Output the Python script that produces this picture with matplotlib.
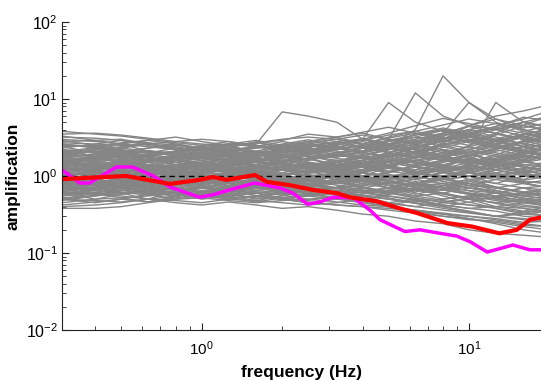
import matplotlib.pyplot as plt
import numpy as np

plt.rcParams['font.family'] = ['Liberation Sans', 'DejaVu Sans']
plt.rcParams['mathtext.fontset'] = 'custom'
plt.rcParams['mathtext.rm'] = 'Liberation Sans'

# frequencies shared by all site curves (Hz)
freq = [0.3, 0.4, 0.5, 0.63, 0.8, 1.0, 1.26, 1.6, 2.0, 2.5, 3.2, 4.0, 5.0, 6.3, 8.0, 10.0, 12.6, 16.0, 20.0]

# amplification of every site curve (grey), one row per site
site_amp = [
    [1.2, 1.3, 1.1, 1.0, 1.2, 1.4, 1.3, 1.1, 1.0, 1.2, 1.5, 1.3, 1.1, 1.4, 1.8, 1.6, 1.3, 1.5, 1.7],
    [0.8, 0.7, 0.9, 0.8, 0.7, 0.8, 0.9, 1.0, 0.8, 0.7, 0.9, 1.1, 1.0, 0.8, 0.9, 1.2, 1.4, 1.1, 0.9],
    [1.8, 1.9, 2.1, 1.7, 1.6, 1.8, 2.0, 1.7, 1.5, 1.9, 2.2, 2.5, 2.0, 1.8, 2.6, 3.0, 2.4, 2.2, 2.8],
    [0.6, 0.65, 0.7, 0.6, 0.55, 0.6, 0.7, 0.65, 0.6, 0.55, 0.6, 0.7, 0.8, 0.6, 0.5, 0.55, 0.6, 0.7, 0.65],
    [2.5, 2.4, 2.2, 2.0, 2.3, 2.1, 1.8, 2.0, 2.4, 2.2, 1.9, 2.3, 2.8, 3.2, 2.9, 2.5, 3.5, 3.0, 2.6],
    [1.0, 0.9, 1.1, 1.2, 1.0, 0.9, 1.1, 1.3, 1.2, 1.0, 1.1, 0.9, 0.8, 1.0, 1.2, 0.9, 0.8, 1.0, 1.1],
    [1.5, 1.4, 1.3, 1.5, 1.6, 1.4, 1.2, 1.3, 1.5, 1.7, 1.4, 1.2, 1.6, 2.0, 1.7, 2.2, 1.9, 1.6, 2.0],
    [0.5, 0.55, 0.6, 0.65, 0.6, 0.5, 0.55, 0.6, 0.5, 0.45, 0.5, 0.55, 0.45, 0.4, 0.45, 0.5, 0.4, 0.35, 0.4],
    [3.8, 3.5, 3.3, 3.0, 2.7, 2.5, 2.6, 2.4, 2.2, 2.5, 2.8, 3.0, 2.6, 3.5, 4.2, 3.6, 3.0, 3.8, 4.5],
    [0.9, 1.0, 0.85, 0.9, 1.1, 1.0, 0.9, 0.8, 0.9, 1.1, 1.3, 1.0, 0.9, 1.2, 1.5, 1.8, 1.4, 1.2, 1.0],
    [1.3, 1.2, 1.4, 1.6, 1.5, 1.3, 1.4, 1.6, 1.8, 1.5, 1.3, 1.6, 1.9, 1.5, 1.3, 1.7, 2.1, 2.4, 2.0],
    [0.7, 0.8, 0.75, 0.7, 0.8, 0.9, 0.8, 0.7, 0.75, 0.8, 0.7, 0.6, 0.7, 0.85, 0.7, 0.6, 0.55, 0.6, 0.7],
    [2.0, 2.2, 2.4, 2.6, 2.3, 2.0, 1.8, 2.1, 2.5, 2.3, 2.0, 1.8, 2.2, 2.6, 3.0, 4.0, 3.2, 2.6, 2.3],
    [1.1, 1.0, 0.9, 1.0, 1.1, 1.2, 1.1, 1.0, 1.1, 1.3, 1.2, 1.0, 1.3, 1.1, 0.9, 1.0, 1.2, 1.4, 1.3],
    [0.4, 0.42, 0.45, 0.5, 0.48, 0.45, 0.5, 0.55, 0.5, 0.45, 0.42, 0.4, 0.38, 0.35, 0.3, 0.28, 0.25, 0.22, 0.2],
    [1.6, 1.7, 1.5, 1.4, 1.3, 1.5, 1.7, 1.9, 1.6, 1.4, 1.5, 1.7, 2.0, 2.4, 2.0, 1.7, 1.5, 1.8, 2.1],
    [0.85, 0.8, 0.75, 0.85, 0.95, 0.85, 0.75, 0.8, 0.9, 0.8, 0.7, 0.75, 0.85, 0.7, 0.65, 0.75, 0.9, 0.8, 0.7],
    [1.5, 1.6, 1.8, 1.9, 2.0, 1.8, 1.9, 2.6, 6.8, 6.0, 5.0, 3.0, 2.5, 3.0, 3.6, 3.0, 2.6, 3.2, 3.8],
    [0.6, 0.58, 0.55, 0.5, 0.55, 0.6, 0.58, 0.52, 0.5, 0.55, 0.6, 0.5, 0.45, 0.5, 0.42, 0.38, 0.4, 0.45, 0.5],
    [1.9, 1.8, 1.6, 1.5, 1.7, 1.9, 2.2, 2.0, 1.8, 1.6, 1.9, 2.3, 2.6, 2.2, 1.8, 2.5, 3.4, 4.5, 3.8],
    [1.0, 1.1, 1.2, 1.1, 1.0, 1.1, 1.2, 1.1, 0.95, 0.9, 1.0, 1.2, 1.5, 1.3, 1.1, 1.0, 0.8, 0.7, 0.75],
    [0.75, 0.7, 0.65, 0.7, 0.75, 0.7, 0.65, 0.6, 0.65, 0.7, 0.8, 0.9, 0.75, 0.65, 0.6, 0.5, 0.45, 0.4, 0.38],
    [2.8, 2.9, 3.0, 2.6, 2.3, 2.2, 2.4, 2.1, 2.0, 2.2, 2.4, 2.0, 1.8, 2.4, 3.0, 4.5, 5.5, 4.0, 3.2],
    [1.25, 1.15, 1.05, 1.1, 1.2, 1.3, 1.2, 1.15, 1.3, 1.4, 1.2, 1.1, 1.0, 0.9, 1.1, 1.3, 1.6, 1.9, 1.6],
    [0.55, 0.6, 0.7, 0.75, 0.7, 0.65, 0.7, 0.8, 0.75, 0.65, 0.6, 0.55, 0.6, 0.7, 0.6, 0.5, 0.45, 0.5, 0.55],
    [1.7, 1.6, 1.9, 2.1, 2.0, 1.7, 1.6, 1.8, 2.0, 2.3, 2.1, 1.9, 2.2, 2.8, 3.6, 9.0, 5.0, 3.8, 3.0],
    [0.95, 0.9, 0.8, 0.75, 0.85, 0.95, 1.0, 0.9, 0.85, 0.8, 0.9, 1.0, 0.85, 0.75, 0.8, 0.9, 1.0, 0.85, 0.8],
    [1.35, 1.45, 1.3, 1.2, 1.3, 1.4, 1.5, 1.35, 1.2, 1.1, 1.3, 1.5, 1.4, 1.7, 2.2, 2.0, 2.6, 2.2, 1.8],
    [0.45, 0.5, 0.52, 0.55, 0.6, 0.55, 0.5, 0.48, 0.45, 0.42, 0.45, 0.5, 0.55, 0.5, 0.4, 0.35, 0.3, 0.32, 0.35],
    [2.2, 2.1, 2.0, 2.3, 2.5, 2.3, 2.1, 1.9, 2.2, 2.6, 2.4, 2.1, 3.0, 12.0, 6.0, 4.5, 4.0, 5.0, 4.2],
    [1.05, 1.1, 1.0, 0.95, 1.0, 1.05, 1.0, 0.95, 1.05, 1.15, 1.1, 1.0, 1.1, 1.3, 1.2, 1.0, 0.9, 1.1, 1.2],
    [0.8, 0.85, 0.9, 0.95, 0.9, 0.8, 0.85, 0.9, 0.85, 0.95, 1.0, 0.85, 0.75, 0.8, 0.95, 1.1, 1.0, 0.8, 0.7],
    [1.6, 1.5, 1.4, 1.3, 1.4, 1.6, 1.8, 1.7, 1.5, 1.3, 1.4, 1.6, 1.8, 2.0, 1.7, 1.4, 1.6, 2.0, 2.4],
    [3.0, 2.8, 2.6, 2.4, 2.2, 2.4, 2.6, 2.5, 2.3, 2.1, 2.5, 3.0, 9.0, 5.0, 3.8, 3.2, 2.8, 3.5, 4.0],
    [0.65, 0.7, 0.8, 0.85, 0.8, 0.75, 0.7, 0.72, 0.8, 0.9, 0.85, 0.7, 0.6, 0.55, 0.6, 0.7, 0.65, 0.55, 0.5],
    [1.15, 1.2, 1.3, 1.4, 1.3, 1.2, 1.25, 1.35, 1.4, 1.3, 1.2, 1.3, 1.5, 1.8, 2.2, 1.9, 1.6, 1.4, 1.5],
    [0.5, 0.45, 0.5, 0.58, 0.62, 0.58, 0.55, 0.6, 0.65, 0.6, 0.5, 0.45, 0.4, 0.35, 0.32, 0.3, 0.28, 0.25, 0.26],
    [2.4, 2.5, 2.3, 2.1, 1.9, 2.0, 2.2, 2.4, 2.2, 2.0, 2.3, 2.8, 2.4, 4.0, 20.0, 9.0, 5.5, 4.5, 4.0],
    [0.9, 0.95, 1.05, 1.1, 1.05, 1.0, 0.95, 1.05, 1.1, 1.0, 0.95, 0.85, 0.9, 1.0, 0.85, 0.75, 0.7, 0.8, 0.9],
    [1.45, 1.35, 1.25, 1.3, 1.4, 1.5, 1.4, 1.3, 1.25, 1.35, 1.5, 1.8, 2.2, 2.6, 2.2, 1.9, 2.3, 2.8, 3.2],
    [0.7, 0.68, 0.72, 0.78, 0.82, 0.78, 0.72, 0.68, 0.7, 0.75, 0.7, 0.65, 0.6, 0.52, 0.45, 0.42, 0.4, 0.38, 0.35],
    [1.8, 1.9, 1.7, 1.6, 1.7, 1.8, 1.6, 1.5, 1.7, 1.9, 1.7, 1.5, 1.6, 2.0, 2.6, 2.3, 9.0, 5.0, 3.5],
    [1.0, 0.95, 0.9, 1.0, 1.1, 1.2, 1.15, 1.05, 1.0, 0.95, 1.05, 1.15, 1.25, 1.1, 1.0, 1.2, 1.5, 1.3, 1.1],
    [0.58, 0.62, 0.66, 0.6, 0.56, 0.6, 0.64, 0.7, 0.66, 0.6, 0.58, 0.62, 0.7, 0.66, 0.58, 0.5, 0.52, 0.6, 0.65],
    [2.6, 2.4, 2.7, 2.9, 2.6, 2.3, 2.5, 2.7, 2.9, 3.5, 3.2, 2.6, 2.3, 2.8, 3.5, 4.5, 6.0, 7.0, 8.4],
    [1.2, 1.25, 1.35, 1.25, 1.15, 1.1, 1.2, 1.3, 1.2, 1.15, 1.25, 1.4, 1.3, 1.2, 1.4, 1.7, 1.5, 1.3, 1.2],
    [0.85, 0.9, 0.8, 0.7, 0.65, 0.7, 0.8, 0.85, 0.75, 0.7, 0.65, 0.6, 0.65, 0.75, 0.9, 0.8, 0.7, 0.6, 0.55],
    [1.55, 1.6, 1.65, 1.75, 1.6, 1.5, 1.55, 1.65, 1.75, 1.8, 1.6, 1.45, 1.55, 1.7, 2.0, 2.4, 2.0, 1.7, 1.9],
    [0.38, 0.38, 0.4, 0.45, 0.5, 0.52, 0.48, 0.45, 0.48, 0.5, 0.46, 0.42, 0.4, 0.36, 0.33, 0.3, 0.27, 0.24, 0.22],
    [3.5, 3.6, 3.4, 3.1, 2.8, 2.6, 2.5, 2.7, 3.0, 3.2, 3.0, 2.6, 2.4, 2.8, 3.4, 4.0, 3.6, 3.0, 2.7],
    [1.1, 1.05, 1.15, 1.25, 1.35, 1.25, 1.15, 1.1, 1.2, 1.35, 1.5, 1.3, 1.15, 1.05, 1.2, 1.4, 1.2, 1.0, 0.9],
    [0.72, 0.76, 0.82, 0.88, 0.84, 0.78, 0.82, 0.88, 0.92, 0.86, 0.8, 0.76, 0.82, 0.9, 0.8, 0.7, 0.62, 0.58, 0.6],
    [2.1, 2.0, 1.85, 1.95, 2.1, 2.2, 2.05, 1.9, 1.8, 1.95, 2.2, 2.5, 2.9, 3.4, 4.0, 3.4, 2.8, 2.4, 2.6],
    [0.95, 1.0, 1.05, 0.95, 0.88, 0.92, 1.0, 1.08, 1.0, 0.92, 0.85, 0.9, 1.0, 1.1, 1.25, 1.1, 0.95, 0.85, 0.8],
    [1.3, 1.35, 1.45, 1.55, 1.5, 1.4, 1.3, 1.25, 1.35, 1.45, 1.4, 1.3, 1.4, 1.6, 1.9, 2.2, 2.6, 3.2, 2.8],
    [0.62, 0.6, 0.58, 0.62, 0.68, 0.72, 0.68, 0.62, 0.58, 0.55, 0.58, 0.62, 0.55, 0.48, 0.42, 0.38, 0.35, 0.3, 0.28],
    [1.75, 1.65, 1.55, 1.6, 1.75, 1.9, 2.05, 1.9, 1.75, 1.65, 1.8, 2.0, 2.3, 2.0, 1.7, 1.5, 1.7, 2.1, 2.5],
    [0.82, 0.78, 0.82, 0.9, 0.98, 0.92, 0.86, 0.82, 0.86, 0.95, 1.05, 0.95, 0.85, 0.78, 0.7, 0.65, 0.6, 0.55, 0.5],
    [1.4, 1.3, 1.2, 1.15, 1.25, 1.35, 1.45, 1.55, 1.45, 1.35, 1.25, 1.35, 1.55, 1.8, 1.6, 1.45, 1.7, 2.0, 1.8],
    [2.7, 2.6, 2.5, 2.6, 2.8, 3.0, 2.8, 2.5, 2.3, 2.4, 2.6, 2.9, 3.4, 3.8, 3.2, 2.8, 3.6, 5.0, 6.0],
    [1.08, 1.12, 1.18, 1.22, 1.16, 1.1, 1.06, 1.12, 1.2, 1.26, 1.2, 1.1, 1.02, 0.95, 0.9, 0.98, 1.1, 1.25, 1.4],
    [0.68, 0.72, 0.76, 0.72, 0.66, 0.62, 0.66, 0.72, 0.78, 0.74, 0.68, 0.64, 0.7, 0.78, 0.7, 0.6, 0.5, 0.45, 0.42],
    [1.95, 2.05, 2.15, 2.0, 1.85, 1.75, 1.85, 2.0, 2.1, 2.0, 1.85, 1.75, 1.9, 2.3, 2.8, 3.2, 4.0, 3.3, 2.7],
    [0.88, 0.84, 0.8, 0.84, 0.9, 0.96, 1.02, 0.96, 0.9, 0.84, 0.8, 0.86, 0.95, 1.05, 1.2, 1.35, 1.2, 1.05, 0.95],
    [1.5, 1.55, 1.45, 1.35, 1.4, 1.5, 1.6, 1.5, 1.4, 1.3, 1.35, 1.45, 1.6, 1.5, 1.35, 1.25, 1.4, 1.65, 1.95],
    [0.52, 0.56, 0.6, 0.64, 0.6, 0.56, 0.52, 0.55, 0.6, 0.64, 0.6, 0.55, 0.5, 0.46, 0.5, 0.55, 0.48, 0.42, 0.38],
    [1.22, 1.28, 1.2, 1.12, 1.05, 1.1, 1.18, 1.24, 1.3, 1.22, 1.14, 1.2, 1.35, 1.55, 1.75, 1.5, 1.3, 1.15, 1.05],
    [3.2, 3.1, 2.9, 2.7, 2.5, 2.3, 2.2, 2.3, 2.5, 2.8, 3.2, 3.6, 3.0, 2.6, 3.0, 3.6, 4.4, 5.5, 7.0],
    [0.78, 0.74, 0.7, 0.75, 0.8, 0.86, 0.8, 0.74, 0.7, 0.66, 0.7, 0.76, 0.82, 0.75, 0.66, 0.58, 0.5, 0.45, 0.4],
    [1.65, 1.75, 1.85, 1.8, 1.7, 1.6, 1.7, 1.8, 1.9, 2.0, 1.85, 1.7, 1.8, 2.1, 2.5, 2.9, 2.5, 2.1, 1.9],
    [1.3, 1.0, 1.2, 0.9, 1.1, 1.4, 1.1, 0.9, 1.2, 1.0, 0.8, 1.1, 1.4, 1.0, 1.3, 1.7, 1.2, 1.5, 1.9],
    [0.7, 0.9, 0.75, 0.95, 0.8, 0.7, 0.85, 0.75, 0.6, 0.75, 0.9, 0.7, 0.6, 0.8, 1.0, 0.75, 0.6, 0.7, 0.55],
    [2.2, 1.8, 2.0, 1.6, 1.9, 2.3, 1.9, 1.6, 2.0, 2.4, 1.8, 2.1, 2.6, 2.0, 2.5, 3.2, 2.6, 2.0, 2.4],
    [1.6, 1.2, 1.5, 1.8, 1.4, 1.2, 1.5, 1.8, 1.4, 1.6, 2.0, 1.5, 1.8, 2.3, 1.8, 2.2, 2.8, 2.2, 2.7],
    [0.95, 1.2, 0.9, 1.1, 1.3, 1.0, 0.85, 1.05, 1.25, 0.95, 1.1, 1.35, 1.05, 0.9, 1.15, 1.4, 1.1, 0.9, 1.2],
    [0.55, 0.7, 0.6, 0.5, 0.65, 0.75, 0.6, 0.5, 0.62, 0.72, 0.6, 0.5, 0.58, 0.68, 0.55, 0.45, 0.55, 0.48, 0.42],
    [1.9, 2.3, 2.6, 2.1, 1.8, 2.2, 2.5, 2.0, 1.7, 2.1, 2.6, 3.0, 2.4, 2.0, 2.7, 3.5, 2.8, 3.3, 2.6],
    [1.15, 0.95, 1.1, 1.3, 1.1, 0.9, 1.05, 1.25, 1.05, 0.85, 1.0, 1.2, 1.4, 1.15, 0.95, 1.1, 1.35, 1.6, 1.3],
    [0.8, 0.65, 0.78, 0.9, 0.72, 0.62, 0.75, 0.88, 0.7, 0.6, 0.72, 0.85, 0.7, 0.58, 0.68, 0.8, 0.65, 0.55, 0.6],
    [1.4, 1.7, 1.5, 1.3, 1.6, 1.9, 1.6, 1.35, 1.55, 1.85, 1.5, 1.3, 1.7, 2.1, 1.8, 1.5, 1.9, 2.4, 2.0],
    [2.4, 2.0, 2.3, 2.7, 2.2, 1.9, 2.3, 2.8, 2.3, 2.0, 2.5, 3.1, 2.6, 2.2, 3.0, 3.8, 3.0, 2.6, 3.4],
    [0.65, 0.8, 0.9, 0.75, 0.68, 0.82, 0.95, 0.8, 0.7, 0.85, 1.0, 0.85, 0.7, 0.62, 0.75, 0.9, 0.72, 0.6, 0.52],
    [1.05, 1.3, 1.5, 1.25, 1.05, 1.2, 1.45, 1.2, 1.0, 1.15, 1.4, 1.6, 1.3, 1.1, 1.35, 1.65, 1.4, 1.2, 1.5],
    [1.75, 1.5, 1.3, 1.55, 1.85, 1.6, 1.35, 1.55, 1.9, 1.65, 1.4, 1.6, 2.0, 2.5, 2.1, 1.8, 2.2, 2.9, 2.4],
    [0.48, 0.55, 0.65, 0.58, 0.5, 0.56, 0.66, 0.6, 0.52, 0.48, 0.55, 0.62, 0.52, 0.45, 0.4, 0.46, 0.38, 0.32, 0.3],
    [1.25, 1.1, 0.95, 1.1, 1.3, 1.45, 1.2, 1.05, 1.25, 1.5, 1.3, 1.1, 1.3, 1.6, 1.4, 1.2, 1.45, 1.75, 2.1],
    [0.9, 0.75, 0.85, 1.0, 0.85, 0.75, 0.9, 1.05, 0.9, 0.78, 0.92, 1.1, 0.95, 0.8, 0.7, 0.85, 1.0, 0.82, 0.7],
    [2.0, 1.75, 1.6, 1.85, 2.1, 1.8, 1.6, 1.9, 2.3, 2.0, 1.75, 2.1, 2.5, 2.9, 2.4, 2.0, 2.6, 3.2, 3.8],
    [1.55, 1.8, 2.0, 1.7, 1.5, 1.75, 2.0, 1.75, 1.5, 1.7, 2.0, 1.75, 1.5, 1.8, 2.2, 1.9, 1.6, 1.9, 2.3],
    [0.75, 0.6, 0.7, 0.82, 0.7, 0.6, 0.72, 0.85, 0.72, 0.62, 0.7, 0.8, 0.9, 0.72, 0.6, 0.52, 0.6, 0.5, 0.45],
    [1.1, 1.35, 1.2, 1.05, 1.25, 1.45, 1.25, 1.05, 1.2, 1.4, 1.6, 1.35, 1.15, 1.35, 1.6, 1.9, 1.6, 1.35, 1.15],
    [0.6, 0.5, 0.58, 0.68, 0.6, 0.52, 0.6, 0.7, 0.62, 0.55, 0.5, 0.58, 0.66, 0.55, 0.48, 0.42, 0.38, 0.34, 0.36],
    [2.9, 2.5, 2.3, 2.6, 2.4, 2.1, 2.4, 2.7, 2.4, 2.6, 3.0, 2.6, 3.1, 3.6, 3.0, 3.4, 4.2, 3.6, 3.0],
    [1.35, 1.15, 1.3, 1.5, 1.3, 1.15, 1.35, 1.55, 1.3, 1.15, 1.3, 1.5, 1.75, 1.45, 1.25, 1.5, 1.8, 1.55, 1.3],
    [0.85, 1.0, 1.15, 0.95, 0.82, 0.95, 1.12, 0.95, 0.82, 0.95, 1.1, 0.92, 0.8, 0.92, 1.1, 1.3, 1.05, 0.88, 1.0],
    [1.85, 2.1, 1.85, 1.6, 1.8, 2.05, 2.3, 2.0, 1.8, 2.05, 2.35, 2.0, 1.8, 2.1, 2.5, 2.1, 1.8, 2.2, 2.7],
    [0.68, 0.58, 0.65, 0.75, 0.65, 0.58, 0.66, 0.76, 0.66, 0.58, 0.64, 0.72, 0.62, 0.52, 0.46, 0.52, 0.44, 0.38, 0.33],
    [1.2, 1.45, 1.3, 1.15, 1.3, 1.5, 1.3, 1.15, 1.32, 1.52, 1.3, 1.15, 1.35, 1.6, 1.85, 1.55, 1.3, 1.55, 1.85],
    [2.3, 2.6, 2.9, 2.5, 2.2, 2.5, 2.8, 2.4, 2.1, 2.4, 2.8, 2.4, 2.2, 2.6, 3.2, 2.7, 2.3, 2.8, 3.5],
    [0.92, 0.8, 0.7, 0.8, 0.92, 1.05, 0.9, 0.8, 0.92, 1.05, 0.9, 0.8, 0.7, 0.8, 0.92, 0.8, 0.7, 0.62, 0.7],
    [1.45, 1.25, 1.4, 1.6, 1.4, 1.25, 1.45, 1.7, 1.5, 1.3, 1.5, 1.75, 1.5, 1.3, 1.55, 1.85, 2.2, 1.85, 1.55],
    [0.58, 0.68, 0.78, 0.68, 0.6, 0.7, 0.8, 0.7, 0.62, 0.72, 0.84, 0.72, 0.62, 0.7, 0.8, 0.7, 0.6, 0.52, 0.46],
    [1.02, 0.88, 1.0, 1.15, 1.0, 0.88, 1.02, 1.18, 1.02, 0.88, 1.0, 1.15, 1.3, 1.12, 0.98, 1.12, 1.28, 1.1, 0.95],
    [1.7, 1.95, 1.75, 1.55, 1.75, 2.0, 1.75, 1.55, 1.75, 2.0, 2.3, 2.0, 1.75, 2.0, 2.35, 2.8, 2.35, 2.0, 2.4],
    [0.8, 0.92, 1.05, 0.9, 0.8, 0.9, 1.02, 0.9, 0.78, 0.88, 1.0, 0.88, 0.76, 0.66, 0.74, 0.85, 0.72, 0.62, 0.56],
    [1.28, 1.1, 1.22, 1.4, 1.22, 1.08, 1.22, 1.4, 1.22, 1.08, 1.2, 1.38, 1.6, 1.35, 1.15, 1.32, 1.55, 1.85, 1.55],
    [0.5, 0.6, 0.52, 0.46, 0.54, 0.62, 0.55, 0.48, 0.55, 0.64, 0.56, 0.48, 0.42, 0.48, 0.4, 0.34, 0.3, 0.27, 0.25],
    [2.05, 2.35, 2.1, 1.85, 2.1, 2.4, 2.1, 1.85, 2.1, 2.4, 2.75, 2.35, 2.05, 2.4, 2.85, 3.4, 2.9, 2.45, 2.9],
    [0.98, 1.12, 0.98, 0.88, 1.0, 1.14, 1.0, 0.88, 1.0, 1.14, 0.98, 0.86, 0.98, 1.14, 1.32, 1.14, 0.98, 1.14, 1.32],
    [1.6, 1.4, 1.25, 1.4, 1.6, 1.4, 1.25, 1.42, 1.62, 1.42, 1.26, 1.42, 1.62, 1.9, 1.62, 1.4, 1.62, 1.92, 2.3],
    [0.72, 0.84, 0.72, 0.64, 0.74, 0.86, 0.74, 0.64, 0.74, 0.86, 0.76, 0.66, 0.58, 0.66, 0.76, 0.64, 0.54, 0.48, 0.5],
    [3.3, 2.9, 2.6, 2.9, 3.2, 2.8, 2.5, 2.7, 2.4, 2.7, 3.0, 3.4, 3.0, 2.7, 3.3, 4.0, 4.8, 4.0, 3.4],
    [0.42, 0.46, 0.5, 0.46, 0.52, 0.58, 0.52, 0.46, 0.52, 0.58, 0.52, 0.46, 0.4, 0.36, 0.32, 0.28, 0.24, 0.2, 0.18],
    [1.18, 1.35, 1.55, 1.35, 1.18, 1.35, 1.55, 1.35, 1.18, 1.35, 1.58, 1.85, 1.58, 1.38, 1.6, 1.9, 2.25, 2.7, 2.25],
    [0.88, 0.78, 0.88, 1.0, 0.88, 0.78, 0.88, 1.0, 0.86, 0.76, 0.86, 0.98, 0.86, 0.76, 0.66, 0.58, 0.52, 0.46, 0.44],
    [1.5, 1.7, 1.95, 1.7, 1.5, 1.7, 1.95, 1.7, 1.5, 1.72, 2.0, 2.3, 2.0, 1.75, 2.0, 2.4, 2.9, 3.5, 3.0],
    [2.6, 2.3, 2.1, 2.3, 2.6, 2.3, 2.05, 2.3, 2.6, 2.95, 2.6, 2.3, 2.6, 3.0, 3.6, 4.4, 3.6, 3.0, 3.6],
    [0.62, 0.7, 0.62, 0.56, 0.64, 0.72, 0.64, 0.56, 0.5, 0.56, 0.64, 0.56, 0.5, 0.44, 0.38, 0.34, 0.3, 0.34, 0.3],
    [1.12, 0.98, 1.1, 1.26, 1.1, 0.96, 1.1, 1.26, 1.44, 1.24, 1.08, 1.22, 1.4, 1.6, 1.4, 1.2, 1.02, 1.16, 1.34],
    [1.9, 1.68, 1.9, 2.15, 1.9, 1.68, 1.88, 2.1, 1.85, 1.62, 1.8, 2.05, 2.35, 2.05, 1.8, 2.05, 2.4, 2.05, 1.8],
    [1.3, 1.2, 1.4, 1.3, 1.2, 1.3, 1.5, 1.4, 1.6, 1.9, 2.2, 2.6, 3.2, 3.8, 4.6, 5.5, 4.8, 4.2, 5.0],
    [0.9, 1.0, 0.95, 1.1, 1.2, 1.1, 1.3, 1.5, 1.4, 1.7, 2.0, 2.4, 2.8, 3.4, 4.0, 3.5, 4.4, 5.8, 5.2],
    [1.6, 1.5, 1.7, 1.9, 1.7, 1.9, 2.1, 2.4, 2.8, 2.5, 2.3, 3.0, 3.6, 4.5, 5.6, 4.8, 4.0, 4.6, 6.0],
    [0.5, 0.48, 0.46, 0.5, 0.45, 0.42, 0.46, 0.42, 0.38, 0.4, 0.36, 0.32, 0.3, 0.26, 0.24, 0.2, 0.18, 0.17, 0.16],
    [0.7, 0.65, 0.6, 0.62, 0.58, 0.55, 0.52, 0.55, 0.5, 0.46, 0.42, 0.4, 0.36, 0.33, 0.3, 0.27, 0.26, 0.23, 0.22],
    [1.0, 0.92, 1.05, 1.15, 1.3, 1.5, 1.7, 1.6, 1.9, 2.2, 2.6, 3.0, 2.6, 3.2, 3.9, 3.3, 2.8, 3.4, 4.2],
    [2.0, 2.2, 2.0, 1.8, 2.0, 2.3, 2.6, 2.9, 2.5, 2.8, 3.2, 3.7, 4.3, 3.6, 3.0, 3.5, 4.2, 5.0, 4.4],
    [0.82, 0.76, 0.7, 0.64, 0.68, 0.62, 0.58, 0.62, 0.56, 0.5, 0.54, 0.48, 0.44, 0.4, 0.36, 0.33, 0.3, 0.28, 0.26],
]

# magenta curve
mag_freq = [0.3, 0.35, 0.38, 0.48, 0.55, 0.66, 0.76, 0.98, 1.10, 1.27, 1.58, 1.96, 2.19, 2.49, 2.77,
            3.1, 3.7, 4.26, 4.65, 5.76, 6.55, 7.8, 9.0, 10.1, 11.7, 14.6, 16.9, 20.0]
mag_amp = [1.2, 0.81, 0.81, 1.31, 1.31, 1.0, 0.72, 0.53, 0.57, 0.66, 0.81, 0.70, 0.60, 0.43, 0.46,
           0.53, 0.52, 0.36, 0.27, 0.19, 0.20, 0.18, 0.166, 0.14, 0.103, 0.127, 0.11, 0.11]

# red curve
red_freq = [0.3, 0.52, 0.76, 0.98, 1.10, 1.24, 1.58, 1.75, 2.14, 2.60, 3.2, 3.58, 4.5, 5.5, 6.4,
            8.3, 10.3, 13.0, 15.1, 16.9, 18.6, 20.0]
red_amp = [0.91, 1.0, 0.79, 0.89, 0.97, 0.89, 1.03, 0.84, 0.76, 0.66, 0.60, 0.53, 0.47, 0.38, 0.33,
           0.245, 0.22, 0.18, 0.20, 0.27, 0.29, 0.30]

fig = plt.figure(figsize=(5.41, 3.80), dpi=100)
ax = fig.add_axes([0.1146, 0.1316, 0.8854, 0.8105])

for amp in site_amp:
    ax.plot(freq, amp, color='#858585', lw=1.0)

ax.axhline(1.0, color='black', lw=1.0, ls=(0, (4, 3)))
ax.plot(mag_freq, mag_amp, color='#ff00ff', lw=2.5)
ax.plot(red_freq, red_amp, color='#ff0000', lw=3)

ax.set_xscale('log')
ax.set_yscale('log')
ax.set_xlim(0.3, 18.6)
ax.set_ylim(1e-2, 1e2)

for s in ['top', 'right']:
    ax.spines[s].set_visible(False)
for s in ['left', 'bottom']:
    ax.spines[s].set_color('#222222')

ax.tick_params(axis='both', which='both', direction='in', colors='#222222')
ax.tick_params(axis='y', which='major', length=5, labelsize=11.5, pad=3)
ax.tick_params(axis='y', which='minor', length=3)
ax.tick_params(axis='x', which='major', length=5, labelsize=11, pad=7)
ax.tick_params(axis='x', which='minor', length=3)
ax.tick_params(labelcolor='black')

ax.set_xlabel('frequency (Hz)', fontsize=12.5, fontweight='bold', labelpad=5)
ax.set_ylabel('amplification', fontsize=12.5, fontweight='bold', labelpad=4)

plt.savefig('out.png', dpi=100)
